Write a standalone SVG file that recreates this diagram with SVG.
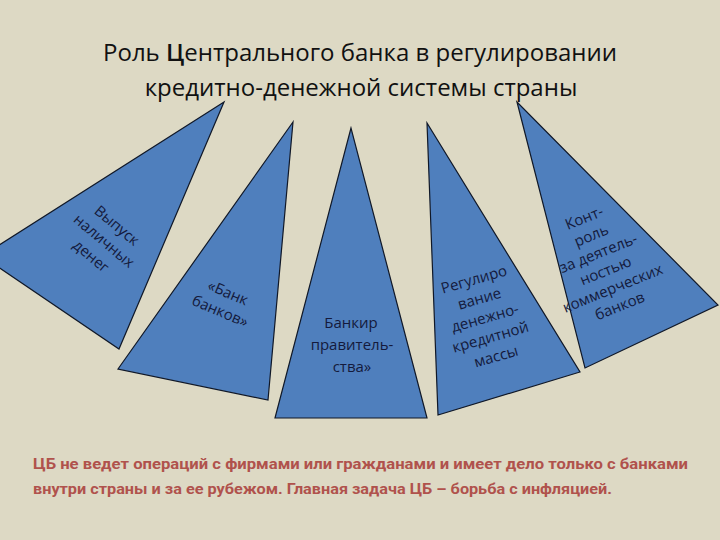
<svg xmlns="http://www.w3.org/2000/svg" width="720" height="540" viewBox="0 0 720 540">
<style>
.tri{fill:#4f7fbd;stroke:#101828;stroke-width:1.2;stroke-linejoin:miter}
.lbl{font-family:"Open Sans","DejaVu Sans",sans-serif;font-size:15px;fill:#141a3c;text-anchor:middle}
.title{font-family:"Open Sans","DejaVu Sans",sans-serif;font-size:24px;fill:#111;text-anchor:middle}
.note{font-family:"Roboto","Liberation Sans",sans-serif;font-size:15px;font-weight:bold;fill:#b0524c}
</style>
<rect width="720" height="540" fill="#ddd9c4"/>
<g id="title">
<text class="title" x="360" y="61">Роль <tspan font-weight="600">Ц</tspan>ентрального банка в регулировании</text>
<text class="title" x="361" y="96">кредитно-денежной системы страны</text>
</g>
<g id="node1">
<polygon class="tri" points="224,102 -18,256 119,349"/>
<g transform="translate(104,241) rotate(40)">
<text class="lbl" x="0" y="-15">Выпуск</text>
<text class="lbl" x="0" y="5">наличных</text>
<text class="lbl" x="0" y="25">денег</text>
</g>
</g>
<g id="node2">
<polygon class="tri" points="293,122 118,369 268,400"/>
<g transform="translate(224,302) rotate(23)">
<text class="lbl" x="0" y="-5">«Банк</text>
<text class="lbl" x="0" y="15">банков»</text>
</g>
</g>
<g id="node3">
<polygon class="tri" points="351,128 275,418 427,418"/>
<text class="lbl" x="351" y="328">Банкир</text>
<text class="lbl" x="352" y="350">правитель-</text>
<text class="lbl" x="352" y="372">ства»</text>
</g>
<g id="node4">
<polygon class="tri" points="427,123 438,415 580,372"/>
<g transform="translate(485,318) rotate(-16)">
<text class="lbl" x="0" y="-35">Регулиро</text>
<text class="lbl" x="0" y="-15">вание</text>
<text class="lbl" x="0" y="5">денежно-</text>
<text class="lbl" x="0" y="25">кредитной</text>
<text class="lbl" x="0" y="45">массы</text>
</g>
</g>
<g id="node5">
<polygon class="tri" points="517,102 585,368 718,305"/>
<g transform="translate(602,262) rotate(-22)">
<text class="lbl" x="0" y="-42.5">Конт-</text>
<text class="lbl" x="0" y="-23.5">роль</text>
<text class="lbl" x="0" y="-4.5">за деятель-</text>
<text class="lbl" x="0" y="14.5">ностью</text>
<text class="lbl" x="0" y="33.5">коммерческих</text>
<text class="lbl" x="0" y="52.5">банков</text>
</g>
</g>
<g id="connectors"></g>
<g id="note">
<text class="note" x="33" y="469" textLength="655" lengthAdjust="spacingAndGlyphs">ЦБ не ведет операций с фирмами или гражданами и имеет дело только с банками</text>
<text class="note" x="33" y="494" textLength="579" lengthAdjust="spacingAndGlyphs">внутри страны и за ее рубежом. Главная задача ЦБ – борьба с инфляцией.</text>
</g>
</svg>
